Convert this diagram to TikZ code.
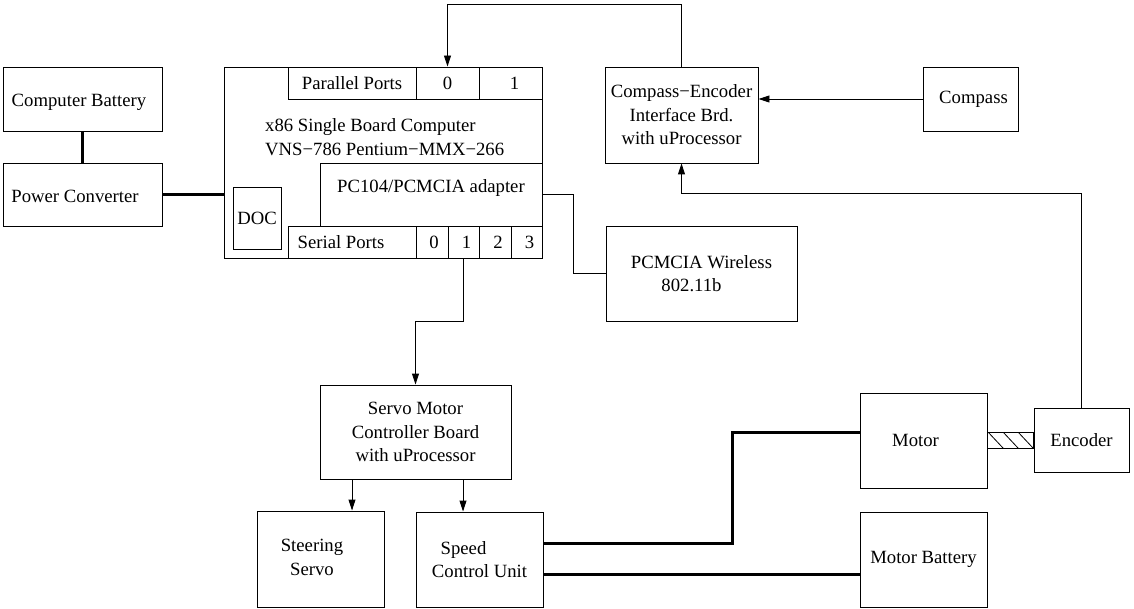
\documentclass[tikz,border=0pt]{standalone}
\usepackage{fontspec}
\setmainfont{Liberation Serif}
\usetikzlibrary{arrows.meta,calc}
\tikzset{
  box/.style={draw=black, line width=0.9pt, inner sep=0pt, align=center},
  conn/.style={draw=black, line width=0.9pt},
  arr/.style={conn, -{Triangle[length=11pt,width=7pt]}},
  power/.style={draw=black, line width=3pt},
  txt/.style={inner sep=0pt, align=center},
}
\begin{document}
\begin{tikzpicture}[x=1pt,y=-1pt, font=\fontsize{18.7}{23.5}\selectfont]
\useasboundingbox (0,0) rectangle (1134,609);
% left
\node[box, minimum width=159pt, minimum height=64pt] (bat) at (82.5,99) {};
\node[txt] (batT) at (79,102) {Computer Battery};
\node[box, minimum width=159pt, minimum height=63pt] (pc) at (82.5,194.5) {};
\node[txt] (pcT) at (75,196) {Power Converter};
% SBC
\node[box, minimum width=318pt, minimum height=191pt] (sbc) at (383,162.5) {};
\node[txt, align=left, anchor=west] (sbcT) at (265,137) {x86 Single Board Computer\\VNS−786 Pentium−MMX−266};
\node[box, minimum width=128pt, minimum height=32pt] (parlab) at (352,83) {Parallel Ports};
\node[box, minimum width=63pt, minimum height=32pt] (par0) at (447.5,83) {0};
\node[box, minimum width=63pt, minimum height=32pt] (par1) at (510.5,83) {\hspace*{8pt}1};
\node[box, minimum width=222pt, minimum height=63pt] (ad) at (431,194.5) {};
\node[txt] (adT) at (431,188) {PC104/PCMCIA adapter};
\node[box, minimum width=128pt, minimum height=32pt] (serlab) at (352,242) {\hspace*{-22pt}Serial Ports};
\node[box, minimum width=32pt, minimum height=32pt] (ser0) at (432,242) {\hspace*{4pt}0};
\node[box, minimum width=31pt, minimum height=32pt] (ser1) at (463.5,242) {\hspace*{6pt}1};
\node[box, minimum width=32pt, minimum height=32pt] (ser2) at (495,242) {\hspace*{6pt}2};
\node[box, minimum width=31pt, minimum height=32pt] (ser3) at (526.5,242) {\hspace*{6pt}3};
\node[box, minimum width=48pt, minimum height=62pt] (doc) at (257,218) {DOC};
% right top
\node[box, minimum width=153pt, minimum height=96pt] (ce) at (681.5,115) {Compass−Encoder\\Interface Brd.\\with uProcessor};
\node[box, minimum width=95pt, minimum height=64pt] (comp) at (970.5,99) {\hspace*{6pt}Compass};
\node[box, minimum width=191pt, minimum height=95pt] (wl) at (701.5,273.5) {PCMCIA Wireless\\802.11b\hspace*{20pt}};
% bottom
\node[box, minimum width=191pt, minimum height=94pt] (servo) at (415.5,432) {Servo Motor\\Controller Board\\with uProcessor};
\node[box, minimum width=127pt, minimum height=96pt] (steer) at (320.5,559) {};
\node[txt] (steerT) at (312,557.5) {Steering\\Servo};
\node[box, minimum width=127pt, minimum height=95pt] (speed) at (479.5,559.5) {Speed\hspace*{32pt}\\Control Unit};
\node[box, minimum width=127pt, minimum height=95pt] (motor) at (923.5,440.5) {\hspace*{-16pt}Motor};
\node[box, minimum width=95pt, minimum height=64pt] (enc) at (1081.5,440) {Encoder};
\node[box, minimum width=127pt, minimum height=95pt] (mbat) at (923.5,559.5) {Motor Battery};
% connectors
\coordinate (topy) at (0,4);
\draw[power] (bat.south) -- (pc.north);
\draw[power] (pc.east) -- (pc.east -| sbc.west);
\draw[arr] (ce.north) -- (ce.north |- topy) -| (par0.north);
\draw[arr] (comp.west) -- (comp.west -| ce.east);
\draw[arr] (enc.north) -- ++(0,-214) -| (ce.south);
\draw[conn] (ad.east) -- ++(31,0) |- (wl.west);
\draw[arr] (ser1.south) -- ++(0,63) -| (servo.north);
\draw[arr] ([xshift=31.5pt]steer.north |- servo.south) -- ([xshift=31.5pt]steer.north);
\draw[arr] ([xshift=-16.5pt]speed.north |- servo.south) -- ([xshift=-16.5pt]speed.north);
\draw[power] ([yshift=16.5pt]speed.east) -- ++(189,0) |- ([yshift=8.5pt]motor.west);
\draw[power] ([yshift=-14.5pt]speed.east) -- ([yshift=-14.5pt]speed.east -| mbat.west);
% shaft
\draw[conn] ([yshift=8pt]motor.east) rectangle ([yshift=-8pt]motor.east -| enc.west);
\begin{scope}
\clip ([yshift=8pt]motor.east) rectangle ([yshift=-8pt]motor.east -| enc.west);
\foreach \s in {1,16,31} {
  \draw[line width=0.8pt] ([xshift=\s pt, yshift=8pt]motor.east) -- ++(15,16);
}
\end{scope}
\end{tikzpicture}
\end{document}
